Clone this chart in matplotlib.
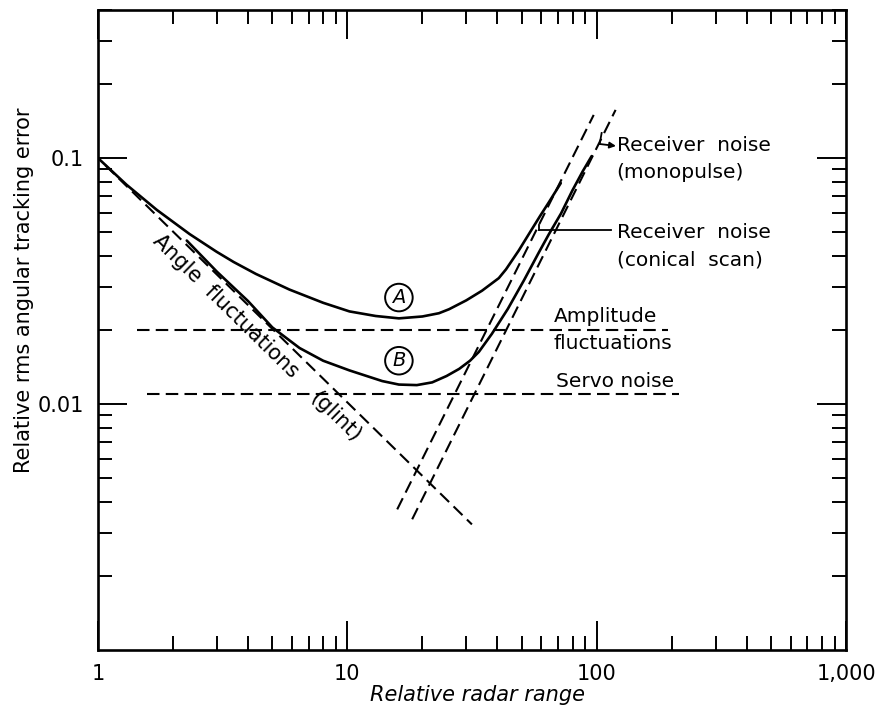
import numpy as np
import matplotlib
matplotlib.use("Agg")
import matplotlib.pyplot as plt
from matplotlib.ticker import FixedLocator, FixedFormatter, LogLocator, NullFormatter

# ---------------- data ----------------
curve_a_x = [1.0, 1.3, 1.72, 2.33, 2.99, 3.5, 4.3, 5.86, 8.0, 10.2, 13.0, 16.1,
             20.0, 23.3, 25.6, 30.0, 34.7, 40.5, 43.3, 48.7, 54.0, 59.2, 64.3, 71.8]
curve_a_y = [0.1, 0.078, 0.0616, 0.0491, 0.0416, 0.0378, 0.0338, 0.0292, 0.0258,
             0.0238, 0.0228, 0.0223, 0.0227, 0.0234, 0.0243, 0.0264, 0.0289,
             0.0325, 0.0353, 0.0421, 0.0499, 0.058, 0.0661, 0.0791]

curve_b_x = [2.27, 3.0, 4.0, 5.0, 6.43, 8.0, 10.2, 13.8, 16.1, 19, 21.9, 25, 28.1,
             31.05, 33.7, 38.0, 44.06, 51.05, 58.6, 64.3, 72.0, 80.0, 88.0, 95.5]
curve_b_y = [0.0462, 0.0345, 0.0262, 0.0205, 0.0169, 0.0150, 0.0137, 0.0124,
             0.0120, 0.01194, 0.01225, 0.0130, 0.0139, 0.0150, 0.0163, 0.0193,
             0.0244, 0.0318, 0.0413, 0.0490, 0.0596, 0.0740, 0.0885, 0.1019]

glint_x = [1.07, 31.6]
glint_y = [0.0935, 0.00324]
amp_x = [1.43, 194]
amp_y = [0.02, 0.02]
servo_x = [1.57, 213]
servo_y = [0.011, 0.011]
rx_conical_x = [15.85, 97.3]
rx_conical_y = [0.00373, 0.1498]
rx_mono_x = [18.2, 119.1]
rx_mono_y = [0.0034, 0.157]

x_ticks = [1, 10, 100, 1000]
x_tick_labels = ["1", "10", "100", "1,000"]
y_ticks = [0.01, 0.1]
y_tick_labels = ["0.01", "0.1"]

# ---------------- figure ----------------
plt.rcParams["lines.scale_dashes"] = False
fig = plt.figure(figsize=(8.8, 7.1), dpi=100)
ax = fig.add_axes([98 / 880, 60 / 710, 748 / 880, 640 / 710])
ax.set_xscale("log")
ax.set_yscale("log")
ax.set_xlim(1, 1000)
ax.set_ylim(0.001, 0.4)

dash = (9, 4.5)
solid_kw = dict(color="black", lw=1.9, solid_capstyle="round", solid_joinstyle="round")
dash_kw = dict(color="black", lw=1.5, ls=(0, dash))

ax.plot(curve_a_x, curve_a_y, **solid_kw)
ax.plot(curve_b_x, curve_b_y, **solid_kw)
ax.plot(glint_x, glint_y, **dash_kw)
ax.plot(amp_x, amp_y, **dash_kw)
ax.plot(servo_x, servo_y, **dash_kw)
ax.plot(rx_conical_x, rx_conical_y, **dash_kw)
ax.plot(rx_mono_x, rx_mono_y, **dash_kw)

# ---------------- ticks ----------------
ax.xaxis.set_major_locator(FixedLocator(x_ticks))
ax.xaxis.set_major_formatter(FixedFormatter(x_tick_labels))
ax.xaxis.set_minor_locator(LogLocator(base=10, subs=np.arange(2, 10)))
ax.xaxis.set_minor_formatter(NullFormatter())
ax.yaxis.set_major_locator(FixedLocator(y_ticks))
ax.yaxis.set_major_formatter(FixedFormatter(y_tick_labels))
ax.yaxis.set_minor_locator(LogLocator(base=10, subs=np.arange(2, 10)))
ax.yaxis.set_minor_formatter(NullFormatter())
ax.tick_params(which="both", direction="in", top=True, right=True,
               width=1.4, color="black")
ax.tick_params(which="major", length=21, labelsize=15, pad=10)
ax.tick_params(which="minor", length=10)
for s in ax.spines.values():
    s.set_linewidth(1.9)

ax.set_xlabel("Relative radar range", fontsize=15, style="italic")
ax.xaxis.label.set_va("center")
ax.xaxis.set_label_coords(0.507, -0.0703)
ax.set_ylabel("Relative rms angular tracking error", fontsize=15)
ax.yaxis.label.set_va("center")
ax.yaxis.set_label_coords(-0.099, 0.5625)

# ---------------- annotations ----------------
p1 = ax.transData.transform((glint_x[0], glint_y[0]))
p2 = ax.transData.transform((glint_x[1], glint_y[1]))
ang = np.degrees(np.arctan2(p2[1] - p1[1], p2[0] - p1[0]))

ax.text(3.25, 0.0251, "Angle  fluctuations", rotation=ang, rotation_mode="anchor",
        ha="center", va="center", fontsize=15)
ax.text(8.95, 0.00885, "(glint)", rotation=ang, rotation_mode="anchor",
        ha="center", va="center", fontsize=15)

circ = dict(boxstyle="circle,pad=0.22", fc="none", ec="black", lw=1.4)
ax.text(16.1, 0.0271, "A", style="italic", ha="center", va="center",
        fontsize=14, bbox=circ)
ax.text(16.1, 0.0150, "B", style="italic", ha="center", va="center",
        fontsize=14, bbox=circ)

tkw = dict(ha="left", va="center", fontsize=14.5)
ax.text(120.2, 0.1130, "Receiver  noise", **tkw)
ax.text(120.2, 0.0877, "(monopulse)", **tkw)
ax.text(120.2, 0.0499, "Receiver  noise", **tkw)
ax.text(120.2, 0.0384, "(conical  scan)", **tkw)
ax.text(67.3, 0.0226, "Amplitude", **tkw)
ax.text(67.3, 0.01758, "fluctuations", **tkw)
ax.text(68.5, 0.0124, "Servo noise", **tkw)

# pointer for monopulse label
ax.plot([104.7, 102.8], [0.1265, 0.1141], color="black", lw=1.3)
ax.annotate("", xy=(119.5, 0.112), xytext=(102.8, 0.1141),
            arrowprops=dict(arrowstyle="-|>", color="black", lw=1.3,
                            mutation_scale=9, shrinkA=0, shrinkB=0))
# pointer for conical scan label
ax.plot([58.6, 113.8], [0.0508, 0.0508], color="black", lw=1.3)
ax.plot([58.6, 58.6], [0.0508, 0.0535], color="black", lw=1.3)

fig.savefig("out.png", dpi=100, facecolor="white")
